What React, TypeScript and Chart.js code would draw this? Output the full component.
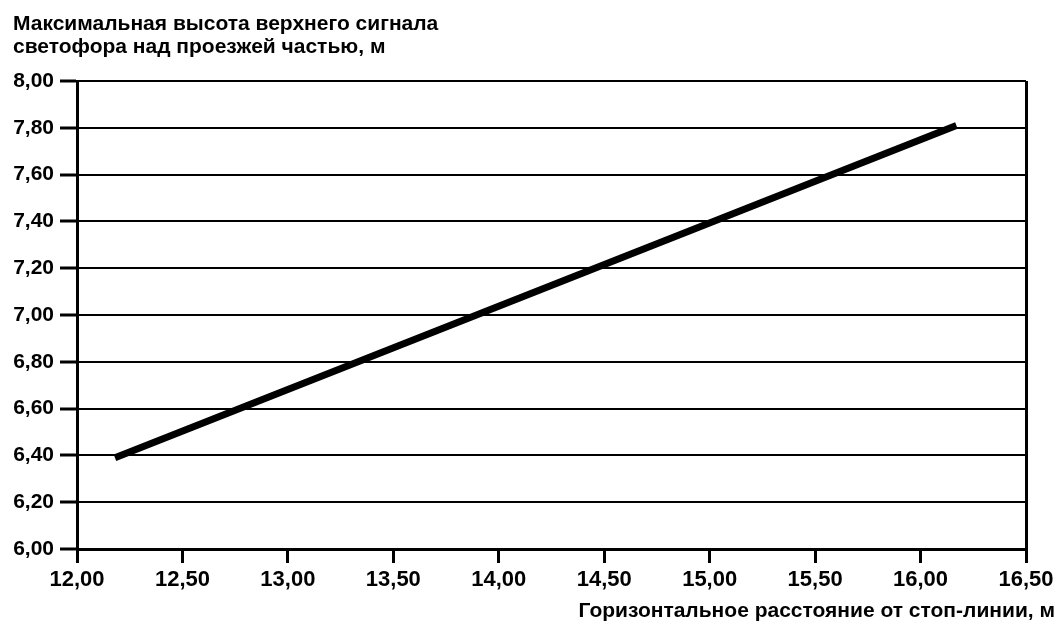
import React, { useEffect, useRef } from "react";
import { Chart, registerables } from "chart.js";

Chart.register(...registerables);

const yTitleLines = ["Максимальная высота верхнего сигнала", "светофора над проезжей частью, м"];
const xTitle = "Горизонтальное расстояние от стоп-линии, м";
const xValues = [12.18, 16.17];
const yValues = [6.39, 7.81];
const xMin = 12, xMax = 16.5, xStep = 0.5;
const yMin = 6, yMax = 8, yStep = 0.2;

const FONT = "'Liberation Sans', Arial, sans-serif";
const fmt = (v: number) => v.toFixed(2).replace(".", ",");

export default function App() {
  const ref = useRef<HTMLCanvasElement | null>(null);
  useEffect(() => {
    if (!ref.current) return;
    const titles = {
      id: "titles",
      afterDraw(chart: any) {
        const c = chart.ctx;
        c.save();
        c.fillStyle = "#000";
        c.font = `bold 21px ${FONT}`;
        c.textBaseline = "alphabetic";
        c.textAlign = "left";
        c.fillText(yTitleLines[0], 13, 30);
        c.fillText(yTitleLines[1], 13, 53);
        c.textAlign = "right";
        c.fillText(xTitle, 1055, 617);
        c.restore();
      },
    };
    const chart = new Chart(ref.current, {
      type: "line",
      data: {
        datasets: [
          {
            data: xValues.map((x, i) => ({ x, y: yValues[i] })),
            borderColor: "#000",
            borderWidth: 7,
            pointRadius: 0,
            borderCapStyle: "butt",
          },
        ],
      },
      options: {
        animation: false,
        responsive: false,
        layout: { padding: { top: 81, right: 37, left: 0, bottom: 0 } },
        plugins: { legend: { display: false }, tooltip: { enabled: false } },
        scales: {
          x: {
            type: "linear",
            min: xMin,
            max: xMax,
            afterFit: (s: any) => { s.height = 75; },
            ticks: {
              stepSize: xStep,
              callback: (v: any) => fmt(Number(v)),
              color: "#000",
              font: { family: FONT, size: 22, weight: "bold" },
              padding: 4,
              maxRotation: 0,
            },
            grid: {
              color: (ctx: any) => (ctx.tick && Math.abs(ctx.tick.value - xMax) < 1e-6 ? "#000" : "rgba(0,0,0,0)"),
              tickColor: "#000",
              lineWidth: 3,
              tickWidth: 3,
              tickLength: 14,
            },
            border: { display: true, color: "#000", width: 3 },
          },
          y: {
            type: "linear",
            min: yMin,
            max: yMax,
            afterFit: (s: any) => { s.width = 77; },
            ticks: {
              stepSize: yStep,
              callback: (v: any) => fmt(Number(v)),
              color: "#000",
              font: { family: FONT, size: 21, weight: "bold" },
              padding: 6,
            },
            grid: {
              color: "#000",
              lineWidth: 2,
              tickLength: 17,
              tickColor: "#000",
              tickWidth: 3,
            },
            border: { display: true, color: "#000", width: 3 },
          },
        },
      },
      plugins: [titles],
    } as any);
    return () => chart.destroy();
  }, []);
  return (
    <div style={{ position: "fixed", left: 0, top: 0, width: 1063, height: 624, background: "#fff" }}>
      <canvas ref={ref} width={1063} height={624} style={{ width: 1063, height: 624 }} />
    </div>
  );
}
